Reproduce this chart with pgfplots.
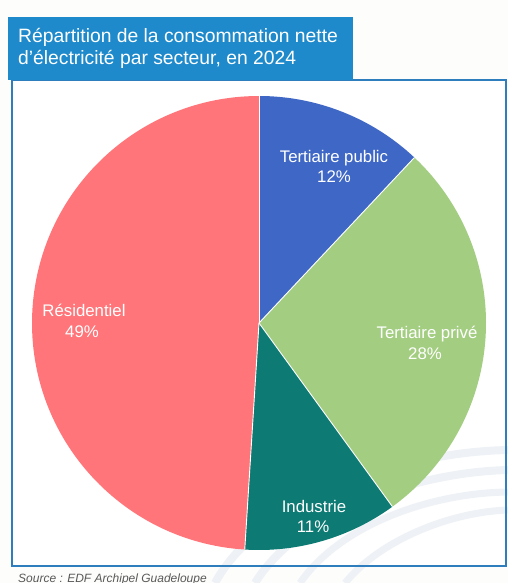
\documentclass[border=0pt]{standalone}
\usepackage{pgfplots}
\pgfplotsset{compat=1.18}
\usepackage{fontspec}
\setmainfont{Liberation Sans}
\definecolor{cpub}{HTML}{3F68C6}
\definecolor{cpriv}{HTML}{A3CE81}
\definecolor{cind}{HTML}{0D7B74}
\definecolor{cres}{HTML}{FF7579}
\definecolor{titleblue}{HTML}{1E8ACB}
\definecolor{frameblue}{HTML}{2E7DBD}
\definecolor{bg}{HTML}{FDFDFB}
\definecolor{swoosh}{HTML}{EEF2F6}
\begin{document}
\begin{tikzpicture}
\begin{axis}[
  scale only axis, width=508bp, height=583bp,
  xmin=0, xmax=508, ymin=0, ymax=583, y dir=reverse,
  hide axis, clip=false,
]
% background
\fill[bg] (axis cs:0,0) rectangle (axis cs:508,583);
\fill[white] (axis cs:11,80) rectangle (axis cs:507,566);
% faint swooshes
\draw[swoosh, line width=8bp] (axis cs:215,583) .. controls (axis cs:260,500) and (axis cs:400,452) .. (axis cs:508,450);
\draw[swoosh, line width=8bp] (axis cs:255,583) .. controls (axis cs:300,510) and (axis cs:420,472) .. (axis cs:508,470);
\draw[swoosh, line width=7bp] (axis cs:300,583) .. controls (axis cs:340,525) and (axis cs:430,493) .. (axis cs:508,492);
\draw[swoosh, line width=7bp] (axis cs:345,583) .. controls (axis cs:380,540) and (axis cs:450,512) .. (axis cs:508,510);
% pie
\pgfplotsextra{%
  \xdef\acc{0}%
  \foreach \v/\col in {12/cpub,28/cpriv,11/cind,49/cres}{%
    \pgfmathsetmacro\a{90-3.6*\acc}%
    \pgfmathsetmacro\b{90-3.6*(\acc+\v)}%
    \fill[\col] (axis cs:259,323) -- ++(\a:227bp) arc[start angle=\a, end angle=\b, radius=227bp] -- cycle;
    \pgfmathsetmacro\n{\acc+\v}\xdef\acc{\n}%
  }%
  \xdef\acc{0}%
  \foreach \v in {12,28,11,49}{%
    \pgfmathsetmacro\a{90-3.6*\acc}%
    \draw[white, line width=0.9bp] (axis cs:259,323) -- ++(\a:227bp);
    \pgfmathsetmacro\n{\acc+\v}\xdef\acc{\n}%
  }%
}
% frame and title
\draw[frameblue, line width=2bp] (axis cs:12,80) rectangle (axis cs:506,566);
\fill[titleblue] (axis cs:8,17) rectangle (axis cs:353,80);
\node[anchor=base west, text=white, inner sep=0pt, font=\fontsize{19.3bp}{23bp}\selectfont] at (axis cs:18,43) {Répartition de la consommation nette};
\node[anchor=base west, text=white, inner sep=0pt, font=\fontsize{19.3bp}{23bp}\selectfont] at (axis cs:18,65) {d’électricité par secteur, en 2024};
% labels
\tikzset{lab/.style={anchor=base, text=white, inner sep=0pt, font=\fontsize{16.8bp}{20bp}\selectfont}}
\node[lab] at (axis cs:334,162) {Tertiaire public};
\node[lab] at (axis cs:334,182) {12\%};
\node[lab] at (axis cs:427,338) {Tertiaire privé};
\node[lab] at (axis cs:425,359) {28\%};
\node[lab] at (axis cs:314,512) {Industrie};
\node[lab] at (axis cs:313,532) {11\%};
\node[lab] at (axis cs:84,316) {Résidentiel};
\node[lab] at (axis cs:82,337) {49\%};
% source
\node[anchor=base west, text=black!65, inner sep=0pt, font=\fontsize{12bp}{14bp}\selectfont\itshape] at (axis cs:18,582) {Source : EDF Archipel Guadeloupe};
\end{axis}
\pgfresetboundingbox
\useasboundingbox (current axis.south west) rectangle (current axis.north east);
\end{tikzpicture}
\end{document}
